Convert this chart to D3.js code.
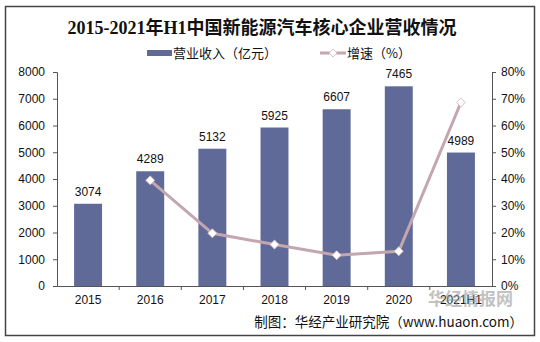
<!DOCTYPE html>
<html>
<head>
<meta charset="utf-8">
<script src="https://cdn.jsdelivr.net/npm/d3@7"></script>
<style>
  body { margin: 0; background: #fff; }
  svg text { font-family: "Liberation Sans", Arial, "Noto Sans CJK SC", sans-serif; }
</style>
</head>
<body>
<svg id="chart" width="540" height="342"></svg>
<script>
const years = ['2015', '2016', '2017', '2018', '2019', '2020', '2021H1'];
const revenue = [3074, 4289, 5132, 5925, 6607, 7465, 4989];
const growth = [null, 39.5, 19.7, 15.5, 11.5, 13.0, 68.6];
const leftTicks = [0, 1000, 2000, 3000, 4000, 5000, 6000, 7000, 8000];
const rightTicks = [0, 10, 20, 30, 40, 50, 60, 70, 80];

const svg = d3.select('#chart');
const margin = {left: 57, right: 48, top: 72, bottom: 56};
const W = 540, H = 342;

// outer frame
svg.append('rect')
  .attr('x', 5.5).attr('y', 6.5).attr('width', 529).attr('height', 329)
  .attr('fill', 'none').attr('stroke', '#444').attr('stroke-width', 1.5);

svg.append('text')
  .attr('x', 262).attr('y', 34)
  .attr('text-anchor', 'middle')
  .style('font-family', '"Liberation Serif", "Noto Sans CJK SC", serif')
  .style('font-weight', 'bold')
  .style('font-size', '18px')
  .attr('fill', '#111')
  .text('2015-2021年H1中国新能源汽车核心企业营收情况');

const x = d3.scaleBand().domain(years).range([margin.left, W - margin.right]).paddingInner(0.55).paddingOuter(0.275);
const xStep = d3.scaleBand().domain(years).range([margin.left, W - margin.right]);
const y = d3.scaleLinear().domain([0, 8000]).range([H - margin.bottom, margin.top]);
const y2 = d3.scaleLinear().domain([0, 80]).range([H - margin.bottom, margin.top]);

// bars
svg.append('g').selectAll('rect')
  .data(revenue)
  .join('rect')
  .attr('x', (d, i) => x(years[i]))
  .attr('y', d => y(d))
  .attr('width', x.bandwidth())
  .attr('height', d => y(0) - y(d))
  .attr('fill', '#5f6a98');

svg.append('g').selectAll('text')
  .data(revenue)
  .join('text')
  .attr('x', (d, i) => x(years[i]) + x.bandwidth() / 2)
  .attr('y', d => y(d) - 8)
  .attr('text-anchor', 'middle')
  .style('font-size', '12px')
  .attr('fill', '#111')
  .text(d => d);

// axes
const axisStyle = g => {
  g.select('.domain').attr('stroke', '#555');
  g.selectAll('.tick line').attr('stroke', '#555');
  g.selectAll('.tick text').style('font-size', '12px').attr('fill', '#111')
    .style('font-family', '"Liberation Sans", Arial, sans-serif');
};

svg.append('g')
  .attr('transform', `translate(${margin.left},0)`)
  .call(d3.axisLeft(y).tickValues(leftTicks).tickSize(4).tickPadding(8).tickFormat(d3.format('d')))
  .call(axisStyle);

svg.append('g')
  .attr('transform', `translate(${W - margin.right},0)`)
  .call(d3.axisRight(y2).tickValues(rightTicks).tickSize(4).tickPadding(5).tickFormat(d => d + '%'))
  .call(axisStyle);

const xAxis = svg.append('g')
  .attr('transform', `translate(0,${y(0)})`)
  .call(d3.axisBottom(xStep).tickSize(0).tickPadding(9))
  .call(axisStyle);
// category separator ticks
xAxis.selectAll('line.sep')
  .data(years.slice(1))
  .join('line')
  .attr('class', 'sep')
  .attr('x1', d => xStep(d)).attr('x2', d => xStep(d))
  .attr('y1', 0).attr('y2', 4)
  .attr('stroke', '#555');

// growth line
const pts = growth.map((g, i) => ({g, i})).filter(p => p.g !== null);
const cx = p => xStep(years[p.i]) + xStep.bandwidth() / 2;
svg.append('path')
  .datum(pts)
  .attr('fill', 'none')
  .attr('stroke', '#c4a6ae')
  .attr('stroke-width', 3)
  .attr('d', d3.line().x(cx).y(p => y2(p.g)));

svg.append('g').selectAll('path')
  .data(pts)
  .join('path')
  .attr('transform', p => `translate(${cx(p)},${y2(p.g)})`)
  .attr('d', d3.symbol(d3.symbolDiamond2, 50))
  .attr('fill', '#fff')
  .attr('stroke', '#d8c3c8')
  .attr('stroke-width', 1);

// legend
const lg = svg.append('g').attr('transform', 'translate(0,53)');
lg.append('rect').attr('x', 147).attr('y', -3).attr('width', 25).attr('height', 6).attr('fill', '#5f6a98');
lg.append('text').attr('x', 173).attr('y', 5).style('font-size', '13px').attr('fill', '#111')
  .style('font-family', '"Noto Sans CJK SC", sans-serif').text('营业收入（亿元）');
lg.append('line').attr('x1', 320).attr('x2', 346).attr('y1', 0).attr('y2', 0)
  .attr('stroke', '#c4a6ae').attr('stroke-width', 3);
lg.append('path').attr('transform', 'translate(333,0)').attr('d', d3.symbol(d3.symbolDiamond2, 40))
  .attr('fill', '#fff').attr('stroke', '#d8c3c8');
lg.append('text').attr('x', 347).attr('y', 5).style('font-size', '13px').attr('fill', '#111')
  .style('font-family', '"Noto Sans CJK SC", sans-serif').text('增速（%）');

// watermark, drawn faint behind the corner labels
svg.append('text')
  .attr('x', 428).attr('y', 305)
  .style('font-family', '"Noto Sans CJK SC", sans-serif')
  .style('font-weight', 'bold').style('font-size', '17px')
  .attr('fill', '#9a9a9a').attr('opacity', 0.6)
  .text('华经情报网');

// source note
svg.append('text')
  .attr('x', 523).attr('y', 327)
  .attr('text-anchor', 'end')
  .style('font-family', '"Noto Sans CJK SC", sans-serif')
  .style('font-size', '13.5px').attr('fill', '#111')
  .text('制图：华经产业研究院（www.huaon.com）');
</script>
</body>
</html>
